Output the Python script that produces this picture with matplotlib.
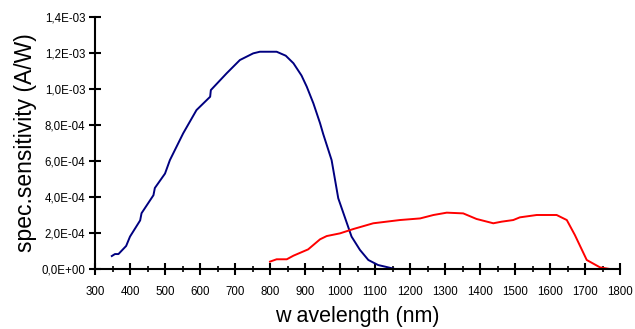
import numpy as np
import matplotlib
matplotlib.use('Agg')
import matplotlib.pyplot as plt
from matplotlib.ticker import MultipleLocator, FuncFormatter

plt.rcParams['font.family'] = ['Liberation Sans', 'DejaVu Sans']

# ── Data ──────────────────────────────────────────────────
# Si detector (blue)
si_nm = [348, 357, 367, 389, 400, 429, 433, 467, 471, 500, 514, 552, 590,
         629, 631, 676, 714, 752, 771, 819, 845, 867, 890, 905, 924, 943, 952,
         976, 995, 1033, 1057, 1081, 1109, 1129, 1157]
si_resp = [7.2e-5, 8.3e-5, 8.3e-5, 1.28e-4, 1.8e-4, 2.7e-4, 3.1e-4, 4.1e-4,
           4.5e-4, 5.3e-4, 6.05e-4, 7.54e-4, 8.83e-4, 9.57e-4, 9.94e-4,
           1.087e-3, 1.161e-3, 1.198e-3, 1.207e-3, 1.207e-3, 1.185e-3,
           1.143e-3, 1.075e-3, 1.013e-3, 9.2e-4, 8.1e-4, 7.5e-4, 6.05e-4,
           3.93e-4, 1.8e-4, 1.06e-4, 5.0e-5, 2.2e-5, 1.3e-5, 0.0]

# InGaAs detector (red)
ingaas_nm = [800, 819, 848, 867, 909, 943, 962, 1000, 1038, 1095, 1171, 1229,
             1267, 1305, 1352, 1390, 1438, 1462, 1495, 1514, 1562, 1619, 1648,
             1671, 1705, 1743, 1771, 1800]
ingaas_resp = [4.1e-5, 5.4e-5, 5.4e-5, 7.4e-5, 1.09e-4, 1.65e-4, 1.83e-4,
               1.98e-4, 2.22e-4, 2.54e-4, 2.72e-4, 2.81e-4, 3.0e-4, 3.13e-4,
               3.09e-4, 2.78e-4, 2.54e-4, 2.63e-4, 2.72e-4, 2.87e-4, 3.0e-4,
               3.0e-4, 2.72e-4, 1.89e-4, 5.0e-5, 9e-6, 0.0, 0.0]

fig = plt.figure(figsize=(6.35, 3.29), dpi=100)
ax = fig.add_axes([95 / 635, 60 / 329, 525 / 635, 252 / 329])

ax.plot(si_nm, si_resp, color='#000080', linewidth=1.4)
ax.plot(ingaas_nm, ingaas_resp, color='#ff0000', linewidth=1.4)

ax.set_xlim(300, 1800)
ax.set_ylim(0, 1.4e-3)

ax.xaxis.set_major_locator(MultipleLocator(100))
ax.xaxis.set_minor_locator(MultipleLocator(50))
ax.yaxis.set_major_locator(MultipleLocator(2e-4))


def sci_comma(v, pos):
    s = f"{v:.1E}"
    return s.replace('.', ',')


ax.yaxis.set_major_formatter(FuncFormatter(sci_comma))

for side in ['top', 'right']:
    ax.spines[side].set_visible(False)
for side in ['left', 'bottom']:
    ax.spines[side].set_linewidth(1.5)

ax.tick_params(axis='x', which='major', direction='inout', length=8, width=1.5,
               labelsize=8.3, pad=8)
ax.tick_params(axis='x', which='minor', direction='inout', length=5, width=1.2)
ax.tick_params(axis='y', which='major', direction='inout', length=8, width=1.5,
               labelsize=8.3, pad=3)

ax.set_xlabel('w avelength (nm)', fontsize=15.5, labelpad=6)
ax.set_ylabel('spec.sensitivity (A/W)', fontsize=16.5, labelpad=3)

fig.savefig('out.png', dpi=100)
